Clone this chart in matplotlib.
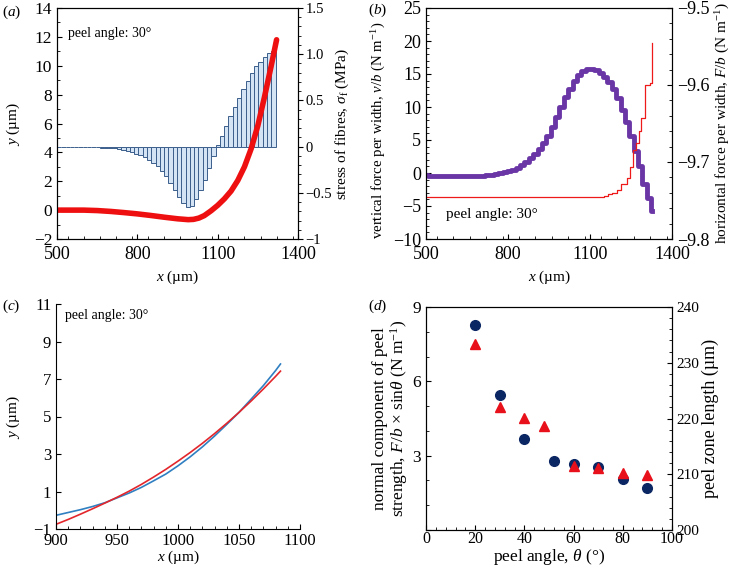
import matplotlib
matplotlib.use('Agg')
import matplotlib.pyplot as plt
import numpy as np
from matplotlib.ticker import MultipleLocator

plt.rcParams['font.family'] = ['Liberation Serif', 'DejaVu Serif']
plt.rcParams['mathtext.fontset'] = 'custom'
plt.rcParams['mathtext.rm'] = 'Liberation Serif'
plt.rcParams['mathtext.it'] = 'Liberation Serif:italic'
plt.rcParams['xtick.direction'] = 'in'
plt.rcParams['ytick.direction'] = 'in'

LAB = 11
LAB_D = 13
ANN = 10

# (a) deflection and fibre stress
fibre_x = np.arange(508, 1310, 16)
stress = [0.0, 0.0, 0.0, 0.0, 0.0, -0.005, 0.0, -0.005, -0.005, -0.005,
          -0.01, -0.01, -0.015, -0.02, -0.03, -0.035, -0.045, -0.06, -0.075, -0.09,
          -0.115, -0.145, -0.175, -0.215, -0.26, -0.32, -0.39, -0.47, -0.55, -0.61,
          -0.65, -0.64, -0.57, -0.47, -0.36, -0.23, -0.1, 0.02, 0.12, 0.22,
          0.33, 0.43, 0.53, 0.62, 0.71, 0.80, 0.87, 0.92, 0.97, 1.01, 1.04]
defl_x = [500, 550, 600, 650, 700, 750, 800, 850, 900, 950, 990, 1010, 1030,
          1050, 1075, 1100, 1125, 1150, 1175, 1200, 1225, 1250, 1275, 1300, 1320]
defl_y = [0.0, 0.0, 0.0, -0.03, -0.09, -0.17, -0.26, -0.37, -0.49, -0.60, -0.66,
          -0.64, -0.55, -0.38, -0.05, 0.33, 0.78, 1.32, 2.05, 3.0, 4.25, 5.85,
          7.85, 10.0, 11.8]

# (b) forces per width
vb_x = [500, 516, 532, 548, 564, 580, 596, 612, 628, 644, 660, 676, 692, 708,
        724, 740, 756, 772, 788, 804, 820, 836, 852, 868, 884, 900, 916, 932,
        948, 964, 980, 996, 1012, 1028, 1044, 1060, 1076, 1092, 1108, 1124,
        1140, 1156, 1172, 1188, 1204, 1220, 1236, 1252, 1268, 1284, 1300, 1316, 1328]
vb_y = [-0.35, -0.38, -0.4, -0.42, -0.45, -0.47, -0.48, -0.5, -0.5, -0.5, -0.5,
        -0.48, -0.45, -0.4, -0.33, -0.25, -0.12, 0.0, 0.12, 0.28, 0.5, 0.8, 1.15,
        1.6, 2.2, 2.85, 3.6, 4.5, 5.6, 7.0, 8.5, 10.0, 11.5, 12.8, 14.0, 14.8,
        15.4, 15.75, 15.8, 15.6, 15.2, 14.6, 13.8, 12.7, 11.3, 9.6, 7.7, 5.6,
        3.4, 1.0, -1.6, -3.8, -5.8]
fb_x = [500, 1136, 1150, 1165, 1180, 1197, 1215, 1234, 1246, 1258, 1270, 1280,
        1288, 1302, 1318, 1327]
fb_y = [-9.745, -9.745, -9.744, -9.742, -9.740, -9.736, -9.728, -9.721, -9.706,
        -9.684, -9.675, -9.66, -9.643, -9.6, -9.597, -9.545]

# (c) profile comparison
c_x = [900, 910, 920, 930, 940, 950, 960, 970, 980, 990, 1000, 1010, 1020,
       1030, 1040, 1050, 1060, 1070, 1080, 1084]
c_blue = [-0.27, -0.12, 0.03, 0.2, 0.4, 0.66, 0.92, 1.22, 1.57, 1.93, 2.37,
          2.85, 3.38, 3.96, 4.58, 5.22, 5.93, 6.65, 7.45, 7.8]
c_red = [-0.75, -0.49, -0.21, 0.08, 0.38, 0.69, 1.02, 1.38, 1.77, 2.18, 2.62,
         3.08, 3.57, 4.09, 4.64, 5.22, 5.83, 6.47, 7.14, 7.42]

# (d) peel angle dependence
ang_c = [20, 30, 40, 52, 60, 70, 80, 90]
strength = [8.29, 5.46, 3.67, 2.79, 2.67, 2.56, 2.06, 1.68]
ang_t = [20, 30, 40, 48, 60, 70, 80, 90]
zone_len = [233.3, 222.1, 220.1, 218.7, 211.5, 211.2, 210.2, 209.9]

fig = plt.figure(figsize=(7.32, 5.66), dpi=100)
W, H = 732.0, 566.0


def box(l, t, r, b):
    return [l / W, 1 - b / H, (r - l) / W, (b - t) / H]


def place_labels(a, l, t, r, b, xl_y, yl_x, a2=None, yr_x=None):
    # put axis label centres at given pixel positions
    w, h = r - l, b - t
    a.xaxis.set_label_coords(0.5, (b - xl_y) / h)
    a.xaxis.label.set_va('center')
    a.yaxis.set_label_coords((yl_x - l) / w, 0.5)
    a.yaxis.label.set_va('center')
    if a2 is not None:
        a2.yaxis.set_label_coords((yr_x - l) / w, 0.5)
        a2.yaxis.label.set_va('center')


# ---- (a)
ax = fig.add_axes(box(57, 8, 298, 239))
ax2 = ax.twinx()
ax2.bar(fibre_x, stress, width=16, facecolor='#d4e4f5', edgecolor='#3b5e8c',
        linewidth=0.7)
ax.plot(defl_x, defl_y, color='#ee1010', lw=4, solid_capstyle='round')
ax.set_zorder(ax2.get_zorder() + 1)
ax.patch.set_visible(False)
ax.set_xlim(500, 1400)
ax.set_ylim(-2, 14)
ax2.set_ylim(-1, 1.5)
ax.set_xticks([500, 800, 1100, 1400])
ax.xaxis.set_minor_locator(MultipleLocator(60))
ax.yaxis.set_major_locator(MultipleLocator(2))
ax.yaxis.set_minor_locator(MultipleLocator(1))
ax2.set_yticks([-1, -0.5, 0, 0.5, 1.0, 1.5])
ax2.set_yticklabels(['\u22121', '\u22120.5', '0', '0.5', '1.0', '1.5'])
ax2.yaxis.set_minor_locator(MultipleLocator(0.1))
ax2.tick_params(axis='y', which='both', direction='out', labelsize=10.5, pad=2)
ax.tick_params(axis='x', labelsize=13, pad=5)
ax.tick_params(axis='y', labelsize=12.5)
ax.set_xlabel('$x$ (\u00b5m)', fontsize=LAB)
ax.set_ylabel('$y$ (\u00b5m)', fontsize=LAB)
ax2.set_ylabel('stress of fibres, $\\sigma_{\\rm f}$ (MPa)', fontsize=LAB)
place_labels(ax, 57, 8, 298, 239, 277, 13, ax2, 342)
ax.text(0.046, 0.89, 'peel angle: 30\u00b0', transform=ax.transAxes,
        fontsize=ANN, va='center')
fig.text(2 / W, 1 - 16 / H, '($a$)', fontsize=LAB)

# ---- (b)
bx = fig.add_axes(box(426, 8, 672, 239))
bx2 = bx.twinx()
bx.plot(vb_x, vb_y, color='#6a36a6', lw=3.5, drawstyle='steps-mid')
bx2.plot(fb_x, fb_y, color='#ee1a1a', lw=0.9, drawstyle='steps-post')
bx.set_xlim(500, 1400)
bx.set_ylim(-10, 25)
bx2.set_ylim(-9.8, -9.5)
bx.set_xticks([500, 800, 1100, 1400])
bx.xaxis.set_minor_locator(MultipleLocator(60))
bx.yaxis.set_major_locator(MultipleLocator(5))
bx.yaxis.set_minor_locator(MultipleLocator(1))
bx2.set_yticks([-9.8, -9.7, -9.6, -9.5])
bx2.yaxis.set_minor_locator(MultipleLocator(0.02))
bx.tick_params(axis='x', labelsize=13, pad=5)
bx.tick_params(axis='y', labelsize=13)
bx2.tick_params(labelsize=13)
bx.set_xlabel('$x$ (\u00b5m)', fontsize=LAB)
bx.set_ylabel('vertical force per width, $v/b$ (N m$^{-1}$)', fontsize=10.7)
bx2.set_ylabel('horizontal force per width, $F/b$ (N m$^{-1}$)', fontsize=LAB)
place_labels(bx, 426, 8, 672, 239, 277, 379, bx2, 723)
bx.yaxis.set_label_coords((379 - 426) / 246.0, 0.47)
bx.text(0.08, 0.104, 'peel angle: 30\u00b0', transform=bx.transAxes,
        fontsize=11, va='center')
fig.text(368 / W, 1 - 14 / H, '($b$)', fontsize=LAB)

# ---- (c)
cx = fig.add_axes(box(56, 304, 300, 529))
cx.plot(c_x, c_blue, color='#2f7fc1', lw=1.2)
cx.plot(c_x, c_red, color='#e3262b', lw=1.2)
cx.set_xlim(900, 1100)
cx.set_ylim(-1, 11)
cx.set_xticks([900, 950, 1000, 1050, 1100])
cx.xaxis.set_minor_locator(MultipleLocator(10))
cx.set_yticks([-1, 1, 3, 5, 7, 9, 11])
cx.spines['top'].set_visible(False)
cx.spines['right'].set_visible(False)
cx.tick_params(axis='x', labelsize=12, pad=3)
cx.tick_params(axis='y', labelsize=12)
cx.set_xlabel('$x$ (\u00b5m)', fontsize=LAB)
cx.set_ylabel('$y$ (\u00b5m)', fontsize=LAB)
place_labels(cx, 56, 304, 300, 529, 557, 13)
cx.text(0.037, 0.95, 'peel angle: 30\u00b0', transform=cx.transAxes,
        fontsize=ANN, va='center')
fig.text(2 / W, 1 - 310 / H, '($c$)', fontsize=LAB)

# ---- (d)
dx = fig.add_axes(box(426, 307, 672, 530))
dx2 = dx.twinx()
dx.plot(ang_c, strength, 'o', color='#0b2763', ms=7)
dx2.plot(ang_t, zone_len, '^', color='#e8101a', ms=6.5)
dx.set_xlim(0, 100)
dx.set_ylim(0, 9)
dx2.set_ylim(200, 240)
dx.set_xticks([0, 20, 40, 60, 80, 100])
dx.xaxis.set_minor_locator(MultipleLocator(4))
dx.set_yticks([0, 3, 6, 9])
dx.set_yticklabels(['', '3', '6', '9'])
dx.yaxis.set_minor_locator(MultipleLocator(1))
dx2.yaxis.set_major_locator(MultipleLocator(10))
dx2.yaxis.set_minor_locator(MultipleLocator(2))
dx.tick_params(axis='x', labelsize=11.5, pad=1)
dx.tick_params(axis='y', labelsize=12.5)
dx2.tick_params(labelsize=11, pad=3)
dx.set_xlabel('peel angle, $\\theta$ (\u00b0)', fontsize=12.5)
dx.set_ylabel('normal component of peel\nstrength, $F/b$ \u00d7 sin$\\theta$ (N m$^{-1}$)',
              fontsize=12.5, linespacing=1.0)
dx2.set_ylabel('peel zone length (\u00b5m)', fontsize=LAB_D)
place_labels(dx, 426, 307, 672, 530, 557, 391, dx2, 710)
fig.text(368 / W, 1 - 310 / H, '($d$)', fontsize=LAB)

fig.savefig('out.png', dpi=100)
